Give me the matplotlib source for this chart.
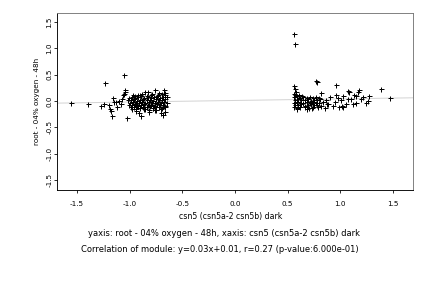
import matplotlib
matplotlib.use("Agg")
import matplotlib.pyplot as plt
import numpy as np

# Punkte (linke Gruppe)
left_x = [
    -1.56, -1.40, -1.27, -1.24, -1.23, -1.17, -1.16, -1.05, -1.04, -1.03,
    -1.06, -1.13, -1.20, -1.10, -1.08, -1.19, -1.15, -1.12, -1.07, -1.18,
    -1.04, -1.05, -0.91, -0.89, -0.94, -0.85, -0.76, -0.83, -0.82, -0.85,
    -0.67, -0.68, -0.70, -0.72, -0.80, -0.88, -0.95, -0.98, -0.75, -0.66,
    -0.66, -0.78, -0.92,
    -1.01, -0.98, -0.95, -0.92, -0.89, -0.86, -0.83, -0.80, -0.77, -0.74, -0.71, -0.68, -0.65,
    -1.02, -0.99, -0.96, -0.93, -0.90, -0.87, -0.84, -0.81, -0.78, -0.75, -0.72, -0.69, -0.66,
    -1.00, -0.97, -0.94, -0.91, -0.88, -0.85, -0.82, -0.79, -0.76, -0.73, -0.70, -0.67, -0.65,
    -1.01, -0.98, -0.95, -0.92, -0.89, -0.86, -0.83, -0.80, -0.77, -0.74, -0.71, -0.68, -0.66,
    -0.99, -0.96, -0.93, -0.90, -0.87, -0.84, -0.81, -0.78, -0.75, -0.72, -0.69, -0.66,
    -0.97, -0.90, -0.84, -0.79, -0.73, -0.69, -0.66, -0.94, -0.86, -0.76, -0.70, -0.82,
]
left_y = [
    -0.03, -0.05, -0.09, -0.06, 0.35, -0.29, 0.05, 0.50, 0.21, -0.32,
    0.11, -0.02, -0.07, 0.00, -0.06, -0.15, -0.02, -0.11, 0.04, -0.19,
    0.18, 0.14, -0.23, -0.29, -0.19, -0.16, 0.21, 0.17, -0.21, 0.18,
    0.20, -0.27, -0.22, 0.15, 0.12, 0.13, 0.10, -0.15, -0.18, 0.16,
    -0.20, -0.14, 0.12,
    0.06, 0.08, 0.05, 0.07, 0.09, 0.06, 0.08, 0.05, 0.07, 0.09, 0.06, 0.08, 0.07,
    0.02, 0.01, 0.03, 0.00, 0.02, 0.03, 0.01, 0.02, 0.00, 0.03, 0.01, 0.02, 0.03,
    -0.03, -0.02, -0.04, -0.03, -0.01, -0.04, -0.02, -0.03, -0.04, -0.02, -0.03, -0.01, -0.04,
    -0.07, -0.08, -0.06, -0.09, -0.07, -0.06, -0.08, -0.07, -0.09, -0.06, -0.08, -0.07, -0.09,
    -0.11, -0.12, -0.10, -0.13, -0.11, -0.12, -0.10, -0.13, -0.11, -0.12, -0.14, -0.11,
    0.11, 0.12, 0.10, 0.13, 0.11, 0.14, 0.12, -0.16, -0.15, -0.17, -0.16, -0.18,
]

# rechte Gruppe
right_x = [
    0.56, 0.57, 0.78, 0.77, 0.96, 1.39, 1.47, 0.56, 0.57, 1.07,
    1.08, 1.18, 1.17, 0.82, 1.22, 1.27, 1.26, 0.99, 1.03, 0.85,
    1.13, 1.20, 1.15, 1.10, 1.05, 1.24, 0.93, 0.98, 1.01, 0.90,
    0.88, 1.12, 0.95, 1.03, 0.96, 1.07, 1.15, 1.02,
    0.56, 0.59, 0.62, 0.65, 0.68, 0.71, 0.74, 0.77, 0.80,
    0.57, 0.60, 0.63, 0.66, 0.69, 0.72, 0.75, 0.78, 0.81, 0.86,
    0.56, 0.59, 0.62, 0.65, 0.68, 0.71, 0.74, 0.77, 0.80, 0.84,
    0.57, 0.60, 0.63, 0.66, 0.69, 0.72, 0.75, 0.78, 0.82, 0.87,
    0.56, 0.59, 0.62, 0.66, 0.70, 0.74, 0.79,
    0.56, 0.58, 0.57, 0.61, 0.64, 0.59, 0.68, 0.73,
]
right_y = [
    1.27, 1.08, 0.36, 0.37, 0.30, 0.23, 0.06, 0.29, 0.22, 0.19,
    0.18, 0.21, 0.17, 0.16, 0.08, 0.10, 0.00, -0.12, -0.12, -0.13,
    0.12, 0.03, -0.03, 0.04, -0.05, -0.04, -0.09, 0.05, 0.01, 0.08,
    -0.06, -0.06, -0.02, 0.10, 0.11, 0.03, 0.10, -0.10,
    0.07, 0.09, 0.06, 0.08, 0.05, 0.07, 0.06, 0.08, 0.05,
    0.02, 0.03, 0.01, 0.02, 0.03, 0.00, 0.02, 0.01, 0.03, 0.02,
    -0.03, -0.02, -0.04, -0.03, -0.01, -0.04, -0.02, -0.03, -0.04, -0.02,
    -0.07, -0.08, -0.06, -0.09, -0.07, -0.06, -0.08, -0.07, -0.09, -0.06,
    -0.12, -0.13, -0.11, -0.12, -0.14, -0.12, -0.11,
    0.14, 0.18, 0.11, 0.12, 0.10, -0.16, -0.15, -0.13,
]

slope, intercept = 0.03, 0.01
xticks = [-1.5, -1.0, -0.5, 0.0, 0.5, 1.0, 1.5]
yticks = [-1.5, -1.0, -0.5, 0.0, 0.5, 1.0, 1.5]

plt.rcParams['font.family'] = ['DejaVu Sans']
FS = 7.3

fig = plt.figure(figsize=(6, 4), dpi=72)
ax = fig.add_axes([0.132, 0.340, 0.824, 0.615])

xlim = (-1.69, 1.69)
lx = np.array(xlim)
ax.plot(lx, slope * lx + intercept, color='#d4d4d4', lw=1, zorder=1)

ax.plot(left_x + right_x, left_y + right_y, '+', color='black',
        ms=5, mew=1.0, zorder=2)

ax.set_xlim(*xlim)
ax.set_ylim(-1.69, 1.67)
ax.set_xticks(xticks)
ax.set_yticks(yticks)
ax.set_xticklabels([f"{t:.1f}" for t in xticks], fontsize=FS)
ax.set_yticklabels([f"{t:.1f}" for t in yticks], fontsize=FS,
                   rotation=90, va='center')
ax.tick_params(axis='x', length=3, width=0.8, pad=8)
ax.tick_params(axis='y', length=3, width=0.8, pad=1.5)

for s in ['left', 'bottom']:
    ax.spines[s].set_color('black')
    ax.spines[s].set_linewidth(0.9)
for s in ['top', 'right']:
    ax.spines[s].set_color('#777777')
    ax.spines[s].set_linewidth(0.9)

# Beschriftungen an festen Stellen wie im Original
fig.text(37 / 432, 1 - 101 / 288, "root - 04% oxygen - 48h",
         rotation=90, ha='center', va='center', fontsize=FS)
fig.text(231 / 432, 1 - 216 / 288, "csn5 (csn5a-2 csn5b) dark",
         ha='center', va='center', fontsize=7.8)
fig.text(224 / 432, 1 - 234 / 288,
         "yaxis: root - 04% oxygen - 48h, xaxis: csn5 (csn5a-2 csn5b) dark",
         ha='center', va='center', fontsize=8.4)
fig.text(220 / 432, 1 - 250 / 288,
         "Correlation of module: y=0.03x+0.01, r=0.27 (p-value:6.000e-01)",
         ha='center', va='center', fontsize=8.4)

fig.savefig("out.png", dpi=72)
